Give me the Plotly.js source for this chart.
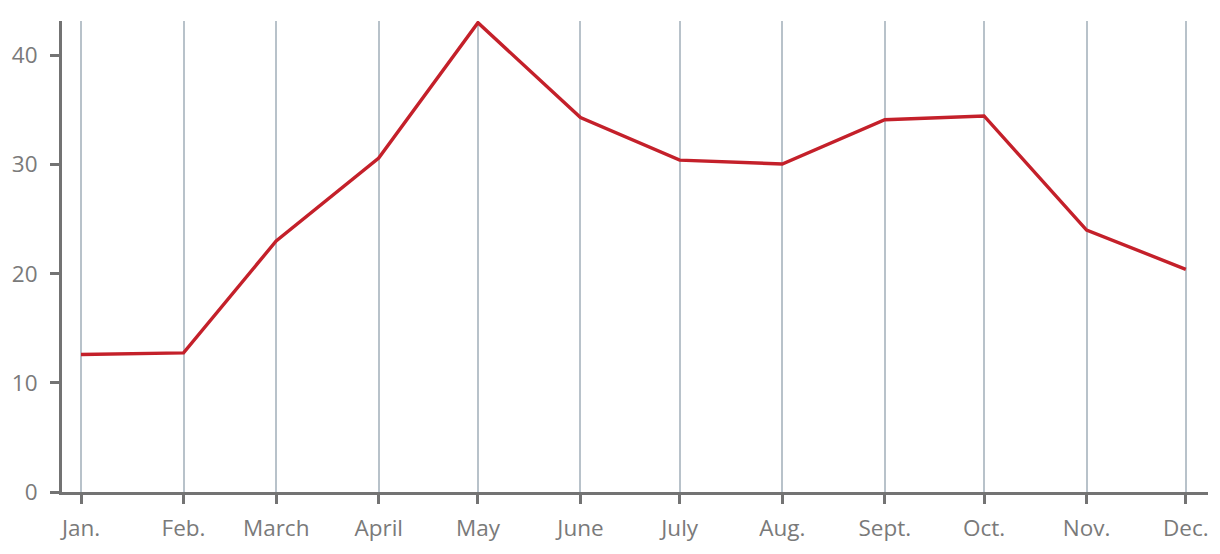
<!DOCTYPE html>
<html>
<head>
<meta charset="utf-8">
<script src="https://cdn.plot.ly/plotly-3.0.1.min.js"></script>
<style>html,body{margin:0;padding:0;background:#fff;}#chart{width:1220px;height:554px;}</style>
</head>
<body>
<div id="chart"></div>
<script>
const dates = ['2021-01-01','2021-02-01','2021-03-01','2021-04-01','2021-05-01','2021-06-01','2021-07-01','2021-08-01','2021-09-01','2021-10-01','2021-11-01','2021-12-01'];
const monthLabels = ['Jan.','Feb.','March','April','May','June','July','Aug.','Sept.','Oct.','Nov.','Dec.'];
const values = [12.6, 12.75, 23.0, 30.6, 43.0, 34.3, 30.4, 30.05, 34.1, 34.45, 24.0, 20.4];
const yTicks = [0, 10, 20, 30, 40];

const axisColor = '#737373';
const fontFamily = '"Open Sans", "Noto Sans", sans-serif';

Plotly.newPlot('chart', [{
  x: dates, y: values, type: 'scatter', mode: 'lines',
  line: {color: '#c4202a', width: 3.4},
  hoverinfo: 'skip'
}], {
  width: 1220, height: 554,
  margin: {l: 62, r: 12, t: 21, b: 62},
  paper_bgcolor: '#fff', plot_bgcolor: '#fff',
  showlegend: false,
  font: {family: fontFamily, size: 22.5, color: '#7a7a7a'},
  xaxis: {
    type: 'date',
    range: ['2020-12-26 06:00', '2021-12-07 17:00'],
    tickvals: dates, ticktext: monthLabels,
    showgrid: true, gridcolor: '#b8c2ca', gridwidth: 2,
    showline: true, linecolor: axisColor, linewidth: 3,
    ticks: 'outside', ticklen: 9, tickwidth: 3, tickcolor: axisColor,
    ticklabelstandoff: 5,
    zeroline: false, fixedrange: true
  },
  yaxis: {
    range: [0, 43.15],
    tickvals: yTicks,
    showgrid: false,
    showline: true, linecolor: axisColor, linewidth: 3,
    ticks: 'outside', ticklen: 9, tickwidth: 3, tickcolor: axisColor,
    ticklabelstandoff: 8,
    zeroline: false, fixedrange: true
  }
}, {displayModeBar: false, staticPlot: true});
</script>
</body>
</html>
